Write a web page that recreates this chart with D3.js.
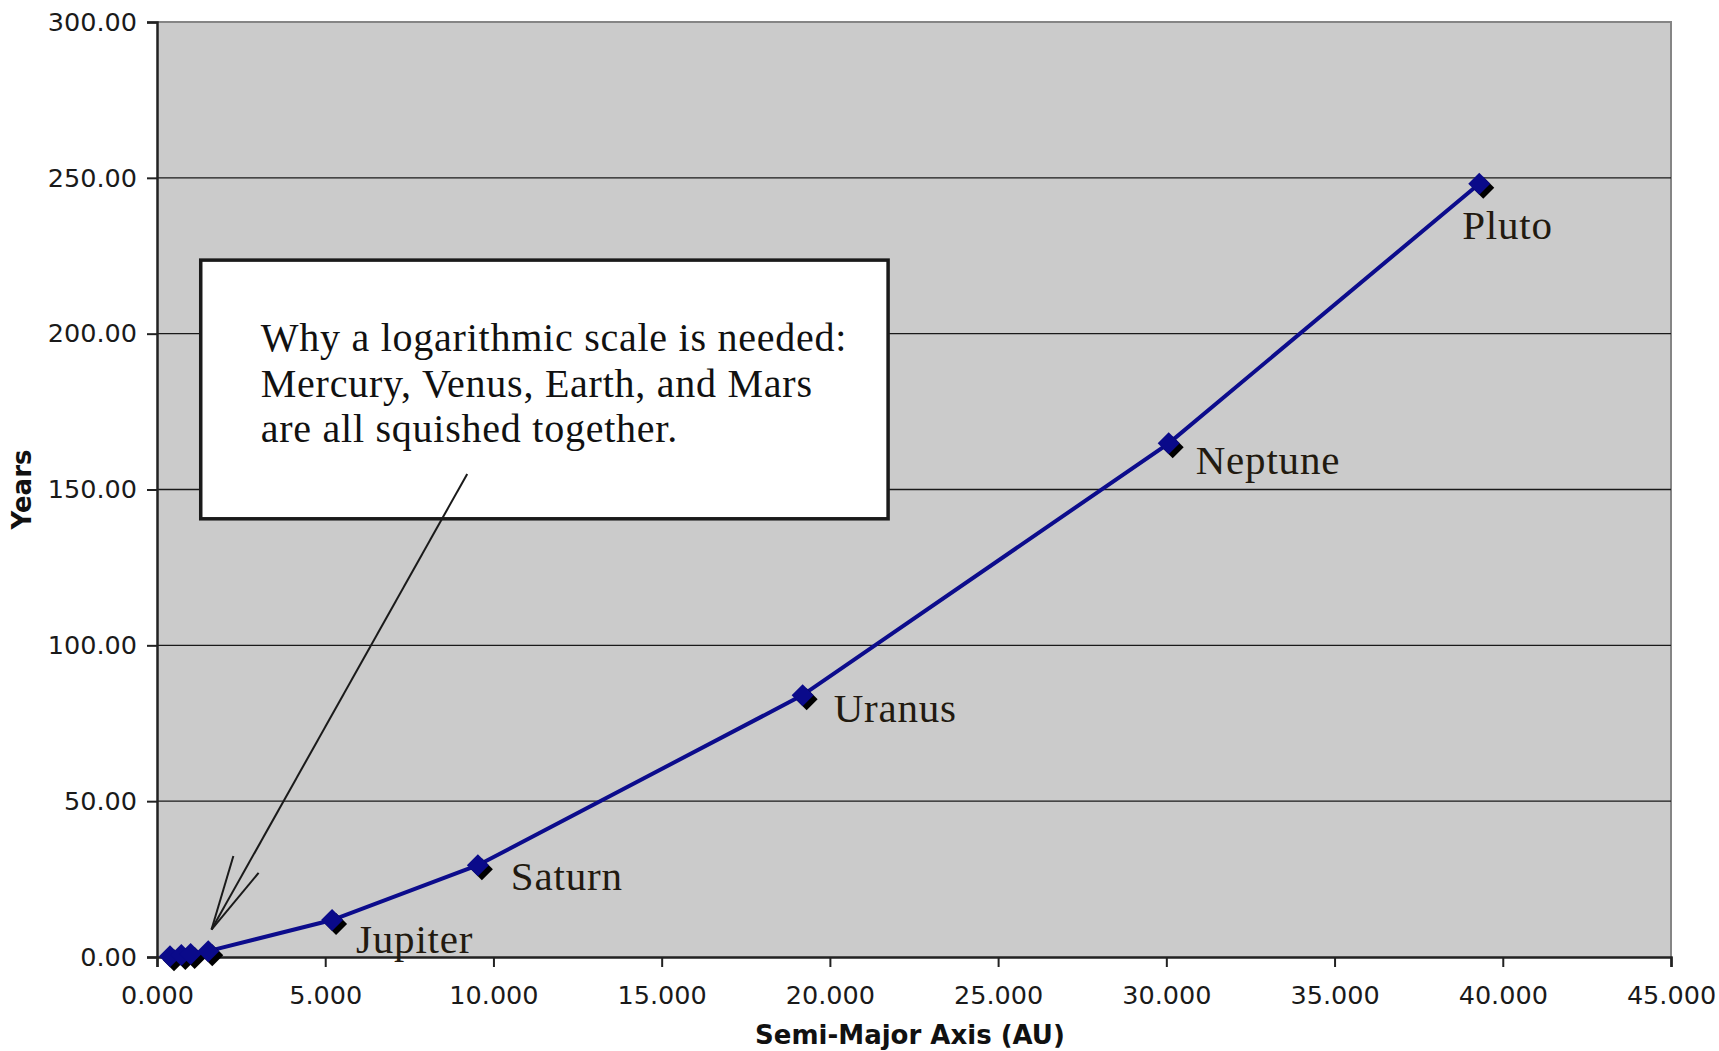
<!DOCTYPE html>
<html><head><meta charset="utf-8">
<script src="https://cdn.jsdelivr.net/npm/d3@7"></script>
<style>html,body{margin:0;padding:0;background:#fff;}</style>
</head><body>
<svg id="chart" width="1719" height="1051"></svg>
<script>
const planets = ["Mercury","Venus","Earth","Mars","Jupiter","Saturn","Uranus","Neptune","Pluto"];
const semiMajorAxis = [0.387,0.723,1.000,1.524,5.203,9.537,19.19,30.07,39.3];
const periodYears = [0.241,0.615,1.000,1.881,11.86,29.45,84.02,164.8,248.1];
const xTicks = [0,5,10,15,20,25,30,35,40,45];
const yTicks = [0,50,100,150,200,250,300];
const labelledPlanets = ["Jupiter","Saturn","Uranus","Neptune","Pluto"];
const noteLines = ["Why a logarithmic scale is needed:","Mercury, Venus, Earth, and Mars","are all squished together."];

const svg = d3.select("#chart");
const L = 157, R = 1671, T = 22, B = 957;
const x = d3.scaleLinear().domain([0,45]).range([L,R]);
const y = d3.scaleLinear().domain([0,300]).range([B,T]);

svg.append("rect").attr("x",L).attr("y",T).attr("width",R-L).attr("height",B-T).attr("fill","#cbcbcb");
svg.append("path").attr("d",`M${L},${T}H${R}V${B}`).attr("fill","none").attr("stroke","#858585").attr("stroke-width",2);

svg.append("g").selectAll("line").data(yTicks.filter(d=>d>0&&d<300)).join("line")
  .attr("x1",L).attr("x2",R).attr("y1",d=>y(d)).attr("y2",d=>y(d))
  .attr("stroke","#1a1a1a").attr("stroke-width",1.4);

const tickFont = "'DejaVu Sans', Verdana, sans-serif";
const yAxis = svg.append("g").attr("transform",`translate(${L},0)`)
  .call(d3.axisLeft(y).tickValues(yTicks).tickFormat(d3.format(".2f")).tickSize(10).tickPadding(10));
const xAxis = svg.append("g").attr("transform",`translate(0,${B})`)
  .call(d3.axisBottom(x).tickValues(xTicks).tickFormat(d3.format(".3f")).tickSize(10).tickPadding(19));
[yAxis,xAxis].forEach(a=>{
  a.selectAll("text").attr("font-family",tickFont).attr("font-size",25.5).attr("fill","#1a1a1a");
  a.selectAll("line").attr("stroke","#222").attr("stroke-width",2);
  a.select(".domain").attr("stroke","#222").attr("stroke-width",2.5);
});

svg.append("text").attr("x",910).attr("y",1044).attr("text-anchor","middle")
  .attr("font-family",tickFont).attr("font-weight","bold").attr("font-size",26).attr("fill","#111")
  .text("Semi-Major Axis (AU)");
svg.append("text").attr("transform",`translate(31,${(T+B)/2}) rotate(-90)`).attr("text-anchor","middle")
  .attr("font-family",tickFont).attr("font-weight","bold").attr("font-size",26).attr("fill","#111")
  .text("Years");

const data = planets.map((p,i)=>({name:p, a:semiMajorAxis[i], t:periodYears[i]}));

svg.append("path").datum(data)
  .attr("d", d3.line().x(d=>x(d.a)).y(d=>y(d.t)))
  .attr("fill","none").attr("stroke","#0c0c8c").attr("stroke-width",4);

const diamond = "M0,-11L11,0L0,11L-11,0Z";
const mk = svg.append("g");
mk.selectAll("path.sh").data(data).join("path").attr("class","sh")
  .attr("d",diamond).attr("transform",d=>`translate(${x(d.a)+4},${y(d.t)+4})`).attr("fill","#000");
mk.selectAll("path.mk").data(data).join("path").attr("class","mk")
  .attr("d",diamond).attr("transform",d=>`translate(${x(d.a)},${y(d.t)})`).attr("fill","#0a0a8a");

const serif = "'Liberation Serif', 'Times New Roman', serif";
const labelOffset = {Jupiter:[24,33],Saturn:[33,25],Uranus:[31,27],Neptune:[27,31],Pluto:[-17,55]};
svg.append("g").selectAll("text").data(data.filter(d=>labelledPlanets.includes(d.name))).join("text")
  .attr("x",d=>x(d.a)+labelOffset[d.name][0]).attr("y",d=>y(d.t)+labelOffset[d.name][1])
  .attr("font-family",serif).attr("font-size",41).attr("letter-spacing",0.8).attr("fill","#221a10")
  .text(d=>d.name);

const box = {x0:1.30, x1:21.73, y0:223.6, y1:140.6};
svg.append("rect").attr("x",x(box.x0)).attr("y",y(box.y0))
  .attr("width",x(box.x1)-x(box.x0)).attr("height",y(box.y1)-y(box.y0))
  .attr("fill","#fff").attr("stroke","#1a1a1a").attr("stroke-width",3.5);
svg.append("g").selectAll("text").data(noteLines).join("text")
  .attr("x",x(box.x0)+60).attr("y",(d,i)=>y(box.y0)+91+i*45.5)
  .attr("font-family",serif).attr("font-size",40).attr("letter-spacing",0.75).attr("fill","#111")
  .text(d=>d);

const a0 = [x(9.22), y(155)], a1 = [x(1.62), y(8.8)];
svg.append("line").attr("x1",a0[0]).attr("y1",a0[1]).attr("x2",a1[0]).attr("y2",a1[1])
  .attr("stroke","#1a1a1a").attr("stroke-width",2);
const heads = [[x(2.27), y(32.4)],[x(3.02), y(27.0)]];
svg.append("g").selectAll("line").data(heads).join("line")
  .attr("x1",a1[0]).attr("y1",a1[1]).attr("x2",d=>d[0]).attr("y2",d=>d[1])
  .attr("stroke","#1a1a1a").attr("stroke-width",2);
</script>
</body></html>
